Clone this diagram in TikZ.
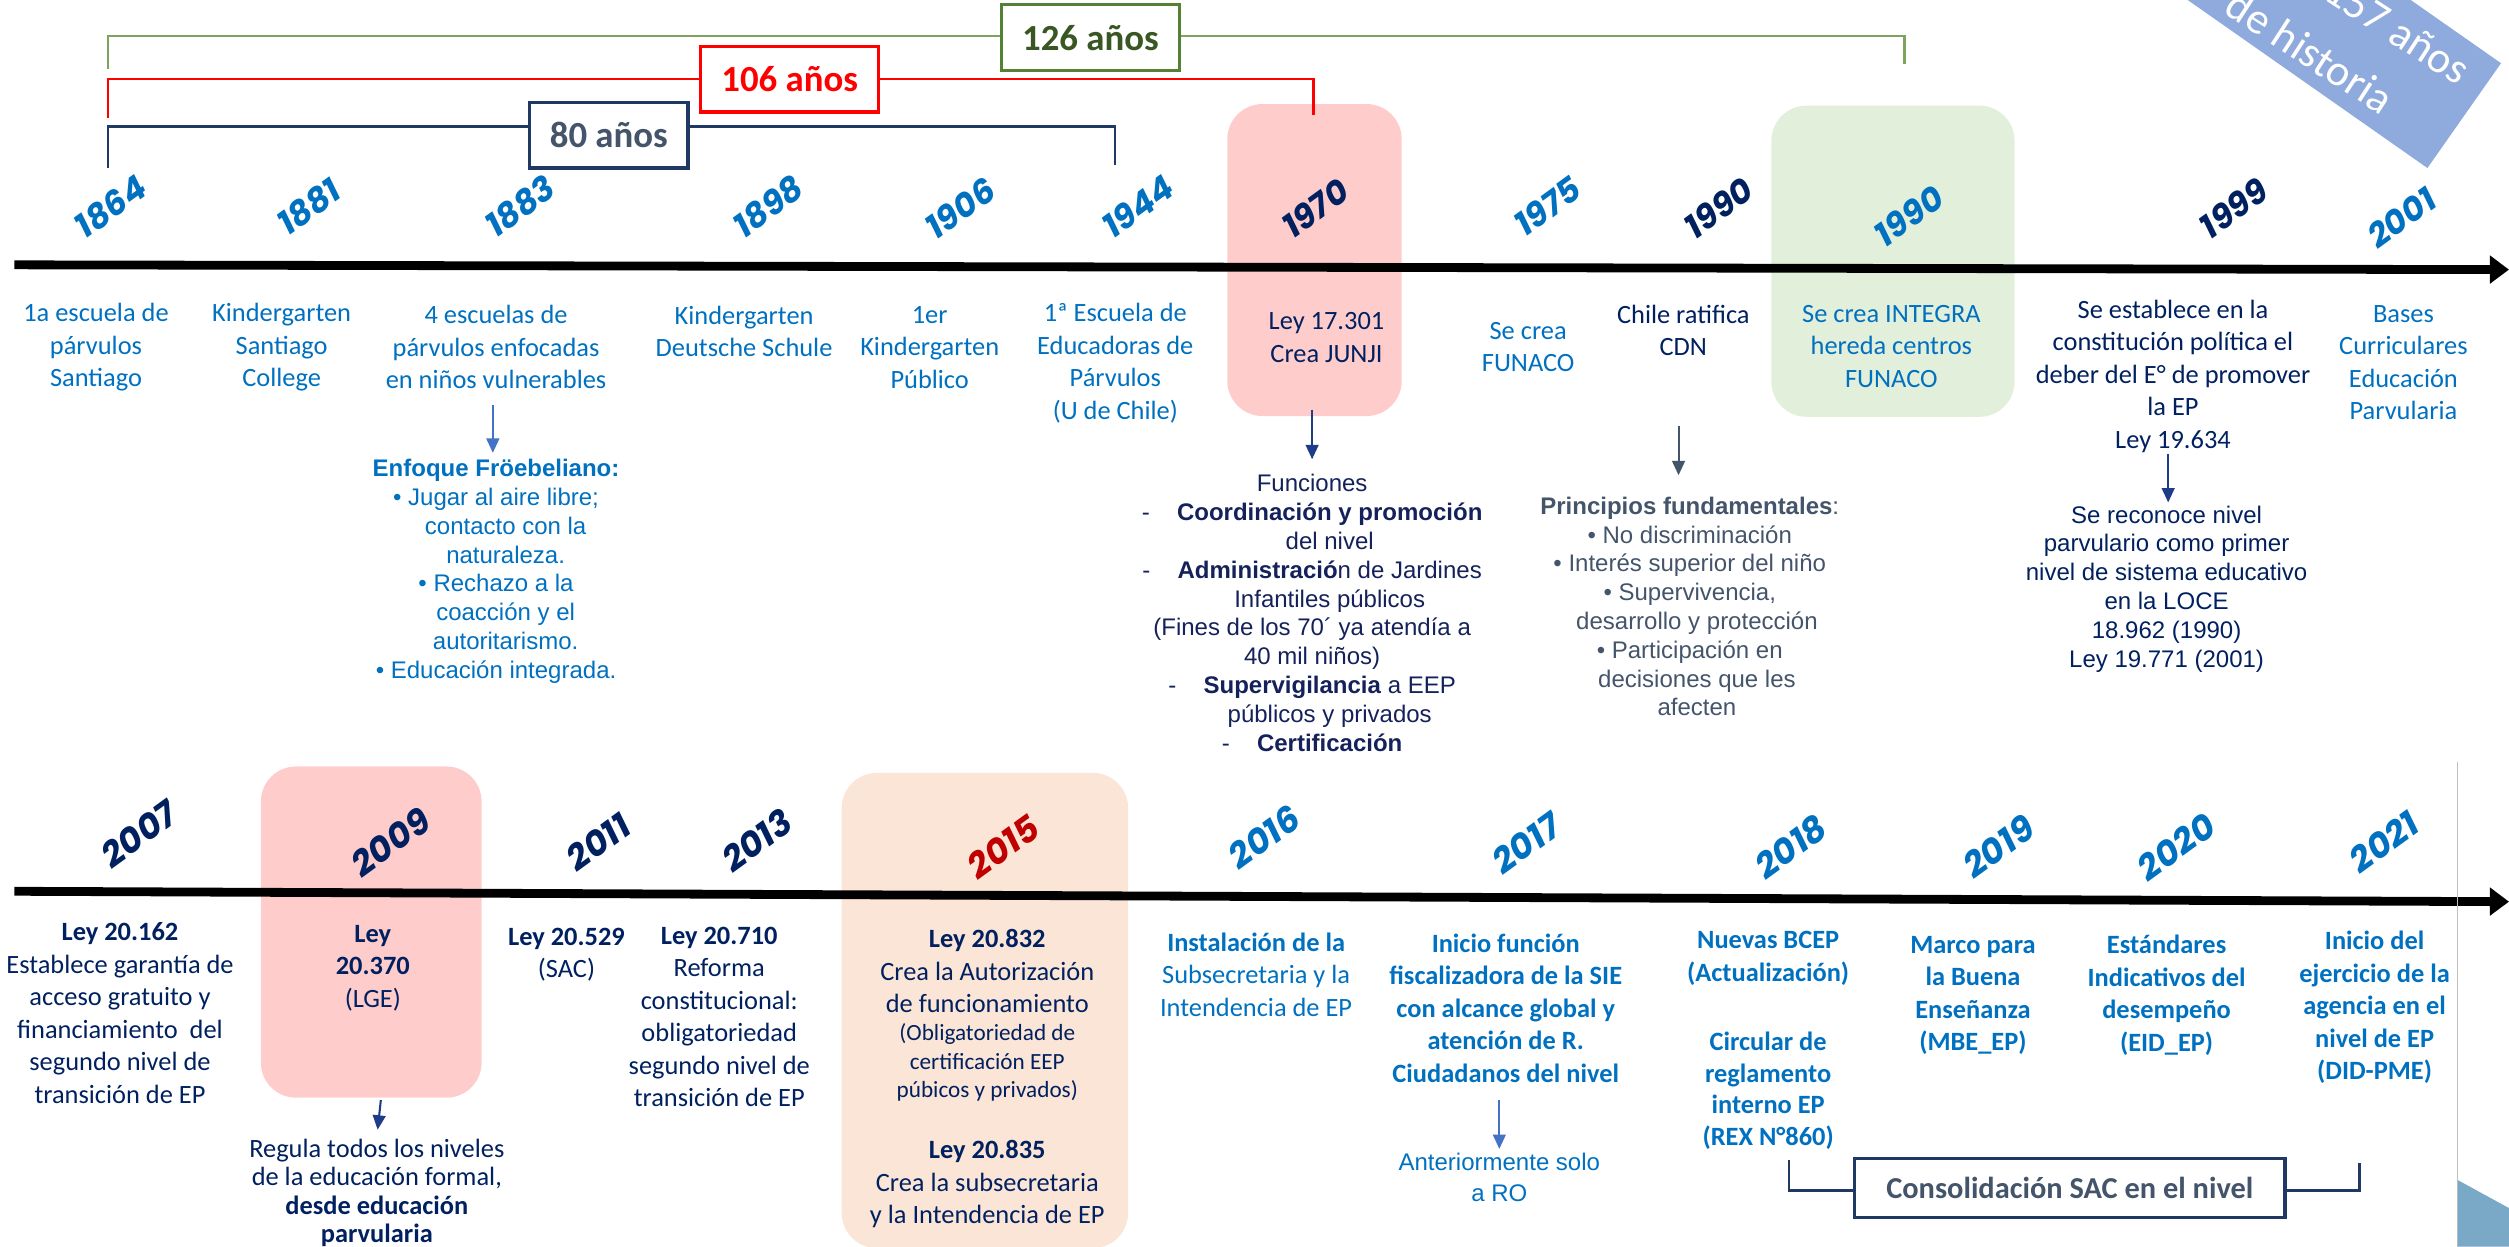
\documentclass[tikz,border=0pt]{standalone}
\usepackage{fontspec}
\setmainfont{Carlito}
\newfontfamily\robo{Liberation Sans}
\newfontfamily\yearfont{Poppins}
\usetikzlibrary{arrows.meta}
\definecolor{blueT}{HTML}{0070C0}
\definecolor{navyT}{HTML}{002060}
\definecolor{navyF}{HTML}{14215A}
\definecolor{redY}{HTML}{C00000}
\definecolor{grayT}{HTML}{44546A}
\definecolor{arrB}{HTML}{4472C4}
\definecolor{arrN}{HTML}{1F3C88}
\definecolor{pinkB}{HTML}{FFCCCC}
\definecolor{greenB}{HTML}{E2EFDA}
\definecolor{peachB}{HTML}{FBE5D6}
\definecolor{bannerC}{HTML}{8FAADC}
\definecolor{chevC}{HTML}{7AA8C7}
\definecolor{gLine}{HTML}{7EA35E}
\definecolor{gBorder}{HTML}{548235}
\definecolor{gText}{HTML}{385723}
\definecolor{rLine}{HTML}{FF0000}
\definecolor{nLine}{HTML}{1F3864}
\begin{document}
\begin{tikzpicture}[x=1pt,y=-1pt,
 txt/.style={align=center,inner sep=0pt,font=\fontsize{16.5}{20.3}\selectfont},
 rob/.style={align=center,inner sep=0pt,font=\robo\fontsize{15}{18}\selectfont},
 yr/.style={inner sep=0pt,rotate=36,font=\yearfont\bfseries\itshape\fontsize{21}{21}\selectfont},
 yrb/.style={inner sep=0pt,rotate=36,font=\yearfont\bfseries\itshape\fontsize{22}{22}\selectfont},
 hl/.style={rounded corners=22pt,inner sep=0pt},
 lbl/.style={draw,line width=2pt,fill=white,inner sep=0pt,font=\bfseries\fontsize{23}{26}\selectfont},
 conn/.style={line width=1.3pt,-{Triangle[length=9pt,width=8pt]}},
 tline/.style={line width=5.5pt,-{Triangle[length=12pt,width=17pt]}},
 bantxt/.style={inner sep=0pt,rotate=-33,text=white,font=\fontsize{27.5}{32}\selectfont},
]
\useasboundingbox (0,0) rectangle (1568,778.75);
\begin{scope}
\clip (0,0) rectangle (1568,778.75);

% banner
\fill[bannerC] (1517,105) -- (1563,39.5) -- (1317,-132.7) -- (1271.3,-67.2) -- cycle;
\node[bantxt,anchor=base east] (ban1) at (1536,54) {157 años};
\node[bantxt,anchor=base west] (ban2) at (1389,8) {de historia};

% highlight boxes
\node[hl,fill=pinkB,minimum width=109pt,minimum height=195pt] (h1970) at (821.5,162.5) {};
\node[hl,fill=greenB,minimum width=152pt,minimum height=194.5pt] (h1990) at (1183,163.25) {};
\node[hl,fill=pinkB,minimum width=138pt,minimum height=207pt] (h2009) at (232,582.5) {};
\node[hl,fill=peachB,minimum width=179pt,minimum height=297pt] (h2015) at (615.5,631.5) {};

% brackets
\coordinate (g0) at (67.5,43); \coordinate (g1) at (67.5,22.5);
\coordinate (g2) at (1190,22.5); \coordinate (g3) at (1190,40);
\draw[gLine,line width=1.8pt] (g0) -- (g1) -- (g2) -- (g3);
\coordinate (r0) at (67.5,74); \coordinate (r1) at (67.5,49.5);
\coordinate (r2) at (821,49.5); \coordinate (r3) at (821,72);
\draw[rLine,line width=1.6pt] (r0) -- (r1) -- (r2) -- (r3);
\coordinate (n0) at (67.5,105); \coordinate (n1) at (67.5,79);
\coordinate (n2) at (697,79); \coordinate (n3) at (697,103);
\draw[nLine,line width=1.4pt] (n0) -- (n1) -- (n2) -- (n3);
\node[lbl,draw=gBorder,text=gText,minimum width=111pt,minimum height=41pt] (y126) at (681.5,23.5) {126 años};
\node[lbl,draw=rLine,text=rLine,minimum width=111pt,minimum height=41pt] (y106) at (493.5,49.5) {106 años};
\node[lbl,draw=nLine,text=grayT,minimum width=99pt,minimum height=41pt] (y80) at (380.5,84.5) {80 años};

% timelines
\coordinate (tl1a) at (9,165.5); \coordinate (tl1b) at (1568,168.5);
\draw[tline] (tl1a) -- (tl1b);
\coordinate (tl2a) at (9,557); \coordinate (tl2b) at (1568,563.5);
\draw[tline] (tl2a) -- (tl2b);

% right side decoration
\coordinate (vl0) at (1536,476); \coordinate (vl1) at (1536,779);
\draw[black!25,line width=0.8pt] (vl0) -- (vl1);
\fill[chevC] (1536,737.5) -- (1568,755) -- (1568,779) -- (1536,779) -- cycle;

% years row 1
\node[yr,text=blueT] (a1864) at (69,129) {1864};
\node[yr,text=blueT] (a1881) at (193,129) {1881};
\node[yr,text=blueT] (a1883) at (325,129) {1883};
\node[yr,text=blueT] (a1898) at (480,129) {1898};
\node[yr,text=blueT] (a1906) at (600,130) {1906};
\node[yr,text=blueT] (a1944) at (711,129) {1944};
\node[yr,text=navyT] (a1970) at (822,130) {1970};
\node[yr,text=blueT] (a1975) at (967,129) {1975};
\node[yr,text=navyT] (a1990) at (1074,130) {1990};
\node[yr,text=blueT] (a1990b) at (1193,135) {1990};
\node[yr,text=navyT] (a1999) at (1396,130) {1999};
\node[yr,text=blueT] (a2001) at (1501,136) {2001};

% row 1 texts
\node[txt,text=blueT] (t1864) at (60,217) {1a escuela de\\párvulos\\Santiago};
\node[txt,text=blueT] (t1881) at (176,217) {Kindergarten\\Santiago\\College};
\node[txt,text=blueT] (t1883) at (310,217) {4 escuelas de\\párvulos enfocadas\\en niños vulnerables};
\node[txt,text=blueT] (t1898) at (465,207) {Kindergarten\\Deutsche Schule};
\node[txt,text=blueT] (t1906) at (581,217) {1er\\Kindergarten\\Público};
\node[txt,text=blueT] (t1944) at (697,227) {1ª Escuela de\\Educadoras de\\Párvulos\\(U de Chile)};
\node[txt,text=navyT] (t1970) at (829,211) {Ley 17.301\\Crea JUNJI};
\node[txt,text=blueT] (t1975) at (955,217) {Se crea\\FUNACO};
\node[txt,text=navyT] (t1990) at (1052,206.5) {Chile ratifica\\CDN};
\node[txt,text=blueT] (t1990b) at (1182,216.5) {Se crea INTEGRA\\hereda centros\\FUNACO};
\node[txt,text=navyT] (t1999) at (1358,235) {Se establece en la\\constitución política el\\deber del E° de promover\\la EP\\Ley 19.634};
\node[txt,text=blueT] (t2001) at (1502,226.5) {Bases\\Curriculares\\Educación\\Parvularia};

% row 1 detail blocks
\node[rob,text=blueT] (enfoque) at (310,357) {\textbf{Enfoque Fröebeliano:}\\• Jugar al aire libre;\\\hspace*{12pt}contacto con la\\\hspace*{12pt}naturaleza.\\• Rechazo a la\\\hspace*{12pt}coacción y el\\\hspace*{12pt}autoritarismo.\\• Educación integrada.};
\node[rob,text=navyF] (funciones) at (831,383) {\hspace*{-22pt}Funciones\\
\llap{-\hspace{17pt}}\textbf{Coordinación y promoción}\\
del nivel\\
\llap{-\hspace{17pt}}\textbf{Administració}n de Jardines\\
Infantiles públicos\\
\hspace*{-22pt}(Fines de los 70´ ya atendía a\\
\hspace*{-22pt}40 mil niños)\\
\llap{-\hspace{17pt}}\textbf{Supervigilancia} a EEP\\
públicos y privados\\
\llap{-\hspace{17pt}}\textbf{Certificación}};
\node[rob,text=grayT] (principios) at (1056,379) {\textbf{Principios fundamentales}:\\• No discriminación\\• Interés superior del niño\\• Supervivencia,\\\hspace*{9pt}desarrollo y protección\\• Participación en\\\hspace*{9pt}decisiones que les\\\hspace*{9pt}afecten};
\node[rob,text=navyT] (reconoce) at (1354,368) {Se reconoce nivel\\parvulario como primer\\nivel de sistema educativo\\en la LOCE\\18.962 (1990)\\Ley 19.771 (2001)};

% row 1 arrows
\coordinate (c1883a) at (308,253); \coordinate (c1883b) at (308,283);
\draw[conn,arrB] (c1883a) -- (c1883b);
\coordinate (c1970a) at (820,256); \coordinate (c1970b) at (820,287);
\draw[conn,arrN] (c1970a) -- (c1970b);
\coordinate (c1990a) at (1049,266); \coordinate (c1990b) at (1049,297);
\draw[conn,grayT] (c1990a) -- (c1990b);
\coordinate (c1999a) at (1355,284); \coordinate (c1999b) at (1355,314);
\draw[conn,arrN] (c1999a) -- (c1999b);

% years row 2
\node[yrb,text=navyT] (b2007) at (87,521) {2007};
\node[yrb,text=navyT] (b2009) at (244,526) {2009};
\node[yrb,text=navyT] (b2011) at (374,526) {2011};
\node[yrb,text=navyT] (b2013) at (473,525) {2013};
\node[yrb,text=redY] (b2015) at (627,529) {2015};
\node[yrb,text=blueT] (b2016) at (790,523) {2016};
\node[yrb,text=blueT] (b2017) at (954,527) {2017};
\node[yrb,text=blueT] (b2018) at (1119,529) {2018};
\node[yrb,text=blueT] (b2019) at (1249,529) {2019};
\node[yrb,text=blueT] (b2020) at (1360,529) {2020};
\node[yrb,text=blueT] (b2021) at (1490,526) {2021};

% row 2 texts
\node[txt,text=navyT] (t2007) at (75,633) {\textbf{Ley 20.162}\\Establece garantía de\\acceso gratuito y\\financiamiento\ \ del\\segundo nivel de\\transición de EP};
\node[txt,text=navyT] (t2009) at (233,605) {\textbf{Ley}\\\textbf{20.370}\\(LGE)};
\node[txt,text=navyT,font=\fontsize{16.5}{17.8}\selectfont] (regula) at (235.5,745.5) {Regula todos los niveles\\de la educación formal,\\\textbf{desde educación}\\\textbf{parvularia}};
\node[txt,text=navyT] (t2011) at (354,596.5) {\textbf{Ley 20.529}\\(SAC)};
\node[txt,text=navyT] (t2013) at (449.5,635.5) {\textbf{Ley 20.710}\\Reforma\\constitucional:\\obligatoriedad\\segundo nivel de\\transición de EP};
\node[txt,text=navyT] (l20832) at (617,607) {\textbf{Ley 20.832}\\Crea la Autorización\\de funcionamiento};
\node[txt,text=navyT,font=\fontsize{14.5}{18}\selectfont] (oblig) at (617,664) {(Obligatoriedad de\\certificación EEP\\púbicos y privados)};
\node[txt,text=navyT] (l20835) at (617,740) {\textbf{Ley 20.835}\\Crea la subsecretaria\\y la Intendencia de EP};
\node[txt,text=blueT] (t2016) at (785,609) {\textbf{Instalación de la}\\Subsecretaria y la\\Intendencia de EP};
\node[txt,text=blueT,font=\bfseries\fontsize{16.5}{20.3}\selectfont] (t2017) at (941,630) {Inicio función\\fiscalizadora de la SIE\\con alcance global y\\atención de R.\\Ciudadanos del nivel};
\node[rob,text=blueT,font=\robo\fontsize{15}{19.5}\selectfont] (anterior) at (937,736) {Anteriormente solo\\a RO};
\node[txt,text=blueT,font=\bfseries\fontsize{16.5}{20.3}\selectfont] (t2018a) at (1105,599) {Nuevas BCEP\\(Actualización)};
\node[txt,text=blueT,font=\bfseries\fontsize{16.5}{19.7}\selectfont] (t2018b) at (1105,681.5) {Circular de\\reglamento\\interno EP\\(REX N°860)};
\node[txt,text=blueT,font=\bfseries\fontsize{16.5}{20.3}\selectfont] (t2019) at (1233,622) {Marco para\\la Buena\\Enseñanza\\(MBE\_EP)};
\node[txt,text=blueT,font=\bfseries\fontsize{16.5}{20.3}\selectfont] (t2020) at (1354,622) {Estándares\\Indicativos del\\desempeño\\(EID\_EP)};
\node[txt,text=blueT,font=\bfseries\fontsize{16.5}{20.3}\selectfont] (t2021) at (1484,629.5) {Inicio del\\ejercicio de la\\agencia en el\\nivel de EP\\(DID-PME)};

% row 2 arrows
\coordinate (c2009a) at (238,687.5); \coordinate (c2009b) at (236,706);
\draw[conn,arrN] (c2009a) -- (c2009b);
\coordinate (c2017a) at (937,687.5); \coordinate (c2017b) at (937,718);
\draw[conn,arrB] (c2017a) -- (c2017b);

% consolidation bracket
\coordinate (s0) at (1118,725); \coordinate (s1) at (1118,744);
\coordinate (s2) at (1474.5,744); \coordinate (s3) at (1474.5,727);
\draw[nLine,line width=1.4pt] (s0) -- (s1) -- (s2) -- (s3);
\node[lbl,draw=nLine,text=grayT,minimum width=269pt,minimum height=37pt,font=\bfseries\fontsize{19}{22}\selectfont] (cons) at (1293.5,742.5) {Consolidación SAC en el nivel};
\end{scope}
\end{tikzpicture}
\end{document}
